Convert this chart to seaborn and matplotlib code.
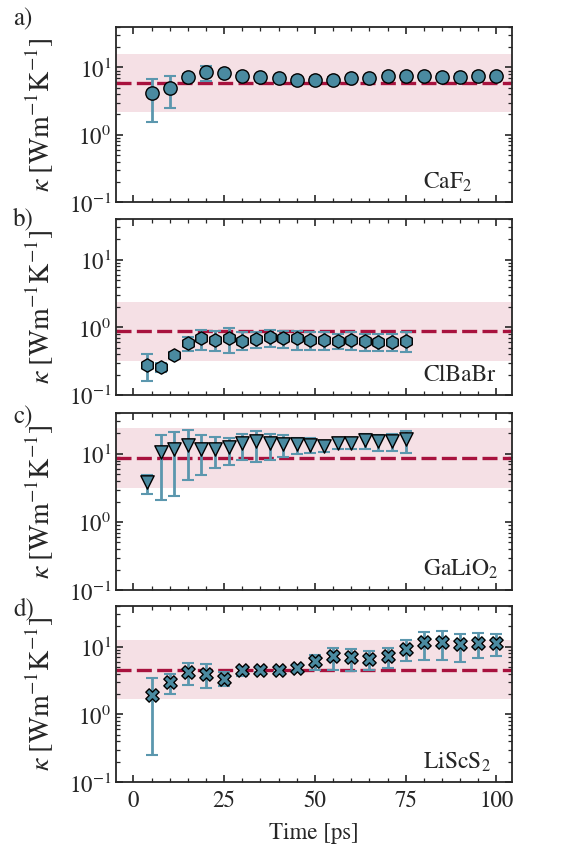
import numpy as np
import pandas as pd
import seaborn as sns
import matplotlib
matplotlib.use("Agg")
import matplotlib.pyplot as plt
from matplotlib.ticker import MultipleLocator, LogLocator, NullFormatter

# 时间轴
t_a = [5, 10, 15, 20, 25, 30, 35, 40, 45, 50, 55, 60, 65, 70, 75, 80, 85, 90, 95, 100]
t_b = [3.75, 7.5, 11.25, 15, 18.75, 22.5, 26.25, 30, 33.75, 37.5, 41.25, 45,
       48.75, 52.5, 56.25, 60, 63.75, 67.5, 71.25, 75]
t_c = t_b
t_d = t_a

# CaF2
k_a = [4.13, 4.95, 7.28, 8.63, 8.15, 7.53, 7.11, 6.96, 6.57, 6.57, 6.6, 6.88, 6.96, 7.45, 7.45, 7.4, 7.28, 7.28, 7.45, 7.53]
lo_a = [1.54, 2.53, 6.5, 6.35, 7.4, 6.9, 6.5, 6.4, 6.0, 6.0, 6.0, 6.3, 6.4, 6.8, 6.8, 6.8, 6.7, 6.7, 6.8, 6.9]
hi_a = [6.7, 7.45, 8.1, 10.6, 9.0, 8.2, 7.8, 7.6, 7.2, 7.2, 7.2, 7.5, 7.6, 8.2, 8.2, 8.1, 8.0, 8.0, 8.2, 8.2]

# ClBaBr
k_b = [0.281, 0.262, 0.39, 0.587, 0.688, 0.657, 0.688, 0.635, 0.672, 0.711, 0.688, 0.688, 0.657, 0.65, 0.635, 0.657, 0.628, 0.614, 0.614, 0.635]
lo_b = [0.163, 0.216, 0.35, 0.45, 0.47, 0.44, 0.42, 0.46, 0.49, 0.51, 0.49, 0.47, 0.47, 0.46, 0.48, 0.46, 0.45, 0.45, 0.45, 0.43]
hi_b = [0.404, 0.30, 0.43, 0.71, 0.91, 0.87, 0.97, 0.86, 0.86, 0.90, 0.88, 0.88, 0.85, 0.85, 0.81, 0.85, 0.81, 0.79, 0.79, 0.84]

# GaLiO2
k_c = [3.93, 10.7, 11.9, 13.5, 11.9, 11.9, 12.6, 14.6, 15.4, 14.6, 14.1, 13.8, 13.5, 13.0, 14.3, 14.3, 15.8, 15.4, 15.4, 16.7]
lo_c = [2.55, 2.1, 2.4, 4.15, 4.93, 6.2, 6.9, 8.2, 7.5, 8.2, 9.0, 10.0, 10.2, 10.8, 11.7, 11.7, 11.7, 11.0, 11.0, 10.5]
hi_c = [4.93, 18.9, 20.9, 22.5, 18.7, 17.7, 17.3, 19.4, 21.7, 19.4, 18.7, 17.3, 16.9, 15.7, 17.3, 16.9, 19.4, 18.7, 19.4, 21.7]

# LiScS2
k_d = [1.91, 3.01, 4.24, 4.0, 3.38, 4.59, 4.59, 4.59, 4.91, 6.17, 7.23, 7.07, 6.53, 7.23, 9.4, 11.8, 11.8, 10.9, 11.4, 11.5]
lo_d = [0.247, 1.98, 2.69, 2.45, 2.6, 3.7, 4.2, 4.2, 4.5, 4.6, 4.6, 4.4, 4.5, 4.9, 6.1, 6.45, 6.45, 5.97, 6.7, 7.2]
hi_d = [3.49, 3.91, 5.77, 5.63, 4.24, 5.1, 5.0, 5.0, 5.3, 7.6, 9.7, 9.4, 8.7, 9.7, 12.5, 16.6, 17.1, 15.6, 16.0, 15.6]

ref_k = [5.94, 0.893, 8.72, 4.59]
band_lo = [2.16, 0.322, 3.2, 1.71]
band_hi = [15.7, 2.39, 23.8, 12.5]

names = ["CaF$_2$", "ClBaBr", "GaLiO$_2$", "LiScS$_2$"]
tags = ["a)", "b)", "c)", "d)"]
markers = ["o", "h", "v", "X"]

series = [(t_a, k_a, lo_a, hi_a), (t_b, k_b, lo_b, hi_b),
          (t_c, k_c, lo_c, hi_c), (t_d, k_d, lo_d, hi_d)]

sns.set_theme(style="ticks")
plt.rcParams["font.family"] = ["STIXGeneral", "DejaVu Serif"]
plt.rcParams["mathtext.fontset"] = "stix"
plt.rcParams["font.size"] = 13
plt.rcParams["axes.linewidth"] = 1.3

blue = "#4a8aa0"
ebar = "#5b97ae"
red = "#a8123e"

W, H = 578, 850
fig = plt.figure(figsize=(W / 100, H / 100), dpi=100)
# 像素坐标下的面板上下边界
top_px = [27, 219, 413, 606]
bot_px = [202, 395, 590, 782]
tag_px = [25, 225, 423, 615]
left, right = 116, 512

for i in range(4):
    ax = fig.add_axes([left / W, 1 - bot_px[i] / H, (right - left) / W,
                       (bot_px[i] - top_px[i]) / H])
    t, k, lo, hi = series[i]
    df = pd.DataFrame({"t": t, "k": k, "lo": lo, "hi": hi})

    ax.axhspan(band_lo[i], band_hi[i], color="#f5e0e5", zorder=0, lw=0)
    ax.axhline(ref_k[i], color=red, ls=(0, (4.5, 1.6)), lw=2.4, zorder=1)
    yerr = np.vstack([df["k"] - df["lo"], df["hi"] - df["k"]])
    ax.errorbar(df["t"], df["k"], yerr=yerr, fmt="none", ecolor=ebar,
                elinewidth=2.0, capsize=4, capthick=1.5, zorder=2)
    sns.scatterplot(data=df, x="t", y="k", ax=ax, marker=markers[i], s=92,
                    color=blue, edgecolor="black", linewidth=1.0, zorder=3, legend=False)

    ax.set_yscale("log")
    ax.set_ylim(0.1, 40)
    ax.set_xlim(-4.8, 104.3)
    ax.xaxis.set_major_locator(MultipleLocator(25))
    ax.xaxis.set_minor_locator(MultipleLocator(5))
    ax.yaxis.set_major_locator(LogLocator(base=10, numticks=10))
    ax.yaxis.set_minor_locator(LogLocator(base=10, subs=np.arange(2, 10), numticks=10))
    ax.yaxis.set_minor_formatter(NullFormatter())
    ax.tick_params(which="both", direction="in", top=True, right=True, labelsize=16.5)
    ax.tick_params(axis="x", pad=6)
    ax.tick_params(which="major", length=5, width=1.2)
    ax.tick_params(which="minor", length=3, width=0.9)
    ax.set_ylabel(r"$\kappa\ \left[\mathrm{Wm^{-1}K^{-1}}\right]$", fontsize=20)
    ax.yaxis.set_label_coords(-0.15, 0.5)
    if i < 3:
        ax.set_xticklabels([])
        ax.set_xlabel("")
    else:
        ax.set_xlabel("Time [ps]", fontsize=16.5, labelpad=8)
    ax.text(0.775, 0.078, names[i], transform=ax.transAxes, ha="left", va="baseline", fontsize=17)
    fig.text(13 / W, 1 - tag_px[i] / H, tags[i], ha="left", va="baseline", fontsize=18)

fig.savefig("out.png", dpi=100)
